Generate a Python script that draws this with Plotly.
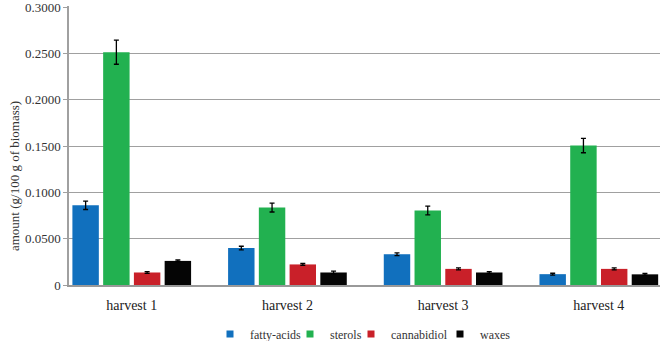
import plotly.graph_objects as go

categories = ["harvest 1", "harvest 2", "harvest 3", "harvest 4"]
series = ["fatty-acids", "sterols", "cannabidiol", "waxes"]
values = {
    "fatty-acids": [0.0860, 0.0398, 0.0332, 0.0117],
    "sterols": [0.2512, 0.0836, 0.0804, 0.1505],
    "cannabidiol": [0.0135, 0.0222, 0.0174, 0.0174],
    "waxes": [0.0260, 0.0135, 0.0135, 0.0115],
}
errors = {
    "fatty-acids": [0.0045, 0.0020, 0.0015, 0.0010],
    "sterols": [0.0130, 0.0048, 0.0047, 0.0078],
    "cannabidiol": [0.0010, 0.0010, 0.0010, 0.0010],
    "waxes": [0.0010, 0.0015, 0.0010, 0.0010],
}
colors = {
    "fatty-acids": "#1170be",
    "sterols": "#22b150",
    "cannabidiol": "#c92029",
    "waxes": "#050505",
}
y_ticks = [0, 0.05, 0.1, 0.15, 0.2, 0.25, 0.3]
y_ticktext = ["0", "0.0500", "0.1000", "0.1500", "0.2000", "0.2500", "0.3000"]
legend_text_x = [250, 330, 391, 480]  # legend label starts (px)

xpos = list(range(len(categories)))
font = "Liberation Serif"
W, H = 662, 341
ML, MR, MT, MB = 69, 2, 6, 56
PW = W - ML - MR
PH = H - MT - MB
y_top = 0.3 * PH / (PH - 1)

fig = go.Figure()
for s in series:
    fig.add_trace(go.Bar(
        x=xpos, y=values[s], name=s, showlegend=False,
        marker=dict(color=colors[s], line=dict(width=0)),
        error_y=dict(type="data", array=errors[s], color="#000000", thickness=1.3, width=2.5),
    ))

layout_legends = {}
for i, s in enumerate(series):
    key = "legend" if i == 0 else f"legend{i + 1}"
    fig.add_trace(go.Scatter(
        x=[None], y=[None], mode="markers", name=s, showlegend=True,
        legend=key,
        marker=dict(symbol="square", size=7, color=colors[s]),
    ))
    lx = (legend_text_x[i] - 40 - ML) / PW
    layout_legends[key] = dict(
        orientation="h", x=lx, xanchor="left", y=(MT + PH - 334) / PH, yanchor="middle",
        font=dict(size=12, family="Liberation Serif, serif", color="#333333"),
        itemwidth=30, bgcolor="rgba(0,0,0,0)", borderwidth=0,
        itemsizing="trace",
    )

fig.update_layout(
    width=W, height=H,
    margin=dict(l=ML, r=MR, t=MT, b=MB, autoexpand=False),
    paper_bgcolor="white", plot_bgcolor="white",
    barmode="group", bargap=0.21, bargroupgap=0.14,
    font=dict(family=font, size=13, color="#222222"),
    showlegend=True,
    xaxis=dict(
        tickmode="array", tickvals=xpos, ticktext=categories,
        range=[-0.403, 3.393], showgrid=False, zeroline=False,
        showline=True, linecolor="#999999", linewidth=1.5,
        ticks="", tickfont=dict(size=14, family=font, color="#222222"),
        ticklabelstandoff=6, automargin=False,
    ),
    yaxis=dict(
        range=[0, y_top], tickmode="array", tickvals=y_ticks, ticktext=y_ticktext,
        showgrid=True, gridcolor="#a0a0a0", gridwidth=1.2,
        showline=True, linecolor="#a0a0a0", linewidth=1.5,
        ticks="outside", ticklen=4, tickcolor="#a0a0a0",
        zeroline=False, tickfont=dict(size=13, family=font, color="#333333"),
        automargin=False, ticklabeloverflow="allow",
    ),
    annotations=[dict(
        text="amount (g/100 g of biomass)", textangle=-90,
        xref="paper", yref="paper", x=-0.093, y=(MT + PH - 176) / PH,
        xanchor="center", yanchor="middle", showarrow=False,
        font=dict(size=13, family=font, color="#333333"),
    )],
    **layout_legends,
)

fig.write_html("out.html")
